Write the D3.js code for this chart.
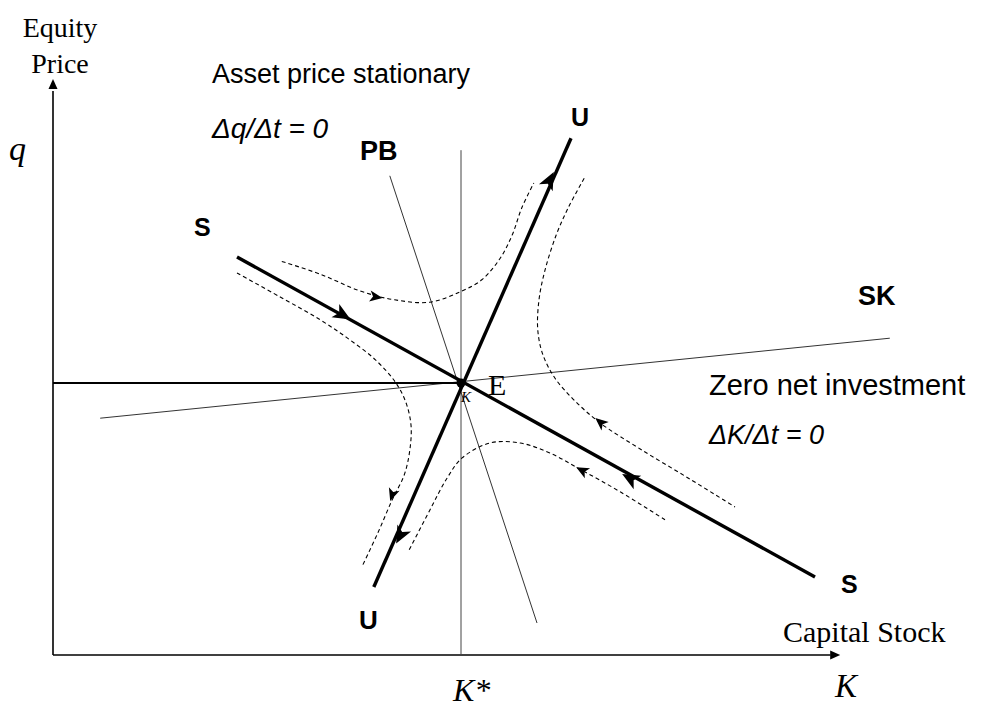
<!DOCTYPE html>
<html>
<head>
<meta charset="utf-8">
<script src="https://cdn.jsdelivr.net/npm/d3@7/dist/d3.min.js"></script>
<style>
  body { margin: 0; background: #fff; }
  .serif { font-family: "Liberation Serif", "Times New Roman", serif; }
  .sans { font-family: "Liberation Sans", Arial, sans-serif; }
</style>
</head>
<body>
<div class="container"></div>
<script>
var width = 985,
    height = 709;

// coordinates in chart units: K across, q up
var equilibrium = [51, 34];
var saddleStable = [[23, 49.75], [95.25, 9.75]];
var saddleUnstable = [[40.1, 8.5], [64.75, 64.6]];
var pbLine = [[42.1, 59.9], [60.5, 4]];
var skLine = [[5.9, 29.6], [104.6, 39.6]];
var kStarLine = [[51, 0], [51, 63.1]];
var priceLine = [[0, 34], [51, 34]];

// dashed trajectories
var pathUpperLeft = [[28.6, 49.2], [33.4, 47.6], [38.4, 45.5], [42.7, 44.4], [47.1, 44.1], [50.9, 45.4],
    [53.6, 46.9], [55.9, 49.6], [57.4, 52.5], [58.6, 55.9], [60.1, 59]];
var pathLowerLeft = [[23, 47.75], [28.4, 44.75], [33.4, 41.9], [37.1, 39.4], [40.3, 36.9], [42.8, 34.1],
    [44.1, 31.6], [44.75, 28.75], [44.6, 25.6], [43.9, 22.5], [42.4, 19.4], [40.6, 15.25], [38.6, 11]];
var pathUpperRight = [[66.4, 59.6], [64.4, 55.9], [62.9, 52.5], [61.5, 48.1], [60.75, 44.4], [60.6, 40.6],
    [61.25, 37.5], [62.75, 34.6], [65.25, 31.75], [68.4, 29], [73.4, 25.75], [79.6, 22], [85.25, 18.5]];
var pathLowerRight = [[76.5, 16.9], [70.9, 20.4], [66.1, 23.1], [62.1, 25.25], [58.4, 26.5], [54.6, 26.5],
    [51.1, 24.6], [49.25, 22.1], [47.1, 18.1], [44.4, 12.9]];

// arrows: position and the point they head toward
var arrows = [
    {at: [36.25, 42.5], to: [51, 34], big: true},
    {at: [72.1, 22.1], to: [51, 34], big: true},
    {at: [62.1, 59.4], to: [64.75, 64.6], big: true},
    {at: [43.4, 14.9], to: [40.1, 8.5], big: true},
    {at: [40.4, 44.75], to: [42.7, 44.4], big: false},
    {at: [42.4, 20], to: [41.5, 17.3], big: false},
    {at: [68.4, 29.1], to: [65.25, 31.75], big: false},
    {at: [66.1, 23.1], to: [62.1, 25.25], big: false}
];

var x = d3.scaleLinear().domain([0, 100]).range([53, 853]);
var y = d3.scaleLinear().domain([0, 72]).range([655, 79]);

var svg = d3.select('.container').append('svg')
    .attr('width', width)
    .attr('height', height);

var line = d3.line().x((d) => x(d[0])).y((d) => y(d[1]));
var curve = d3.line().x((d) => x(d[0])).y((d) => y(d[1])).curve(d3.curveCatmullRom);

var drawSeg = (pts, w, col) => {
    svg.append('path')
        .attr('d', line(pts))
        .attr('fill', 'none')
        .attr('stroke', col || '#000')
        .attr('stroke-width', w);
}

// axes
var ax = svg.append('g');
ax.append('line')
    .attr('x1', x(0)).attr('y1', y(0)).attr('x2', x(97.2)).attr('y2', y(0))
    .attr('stroke', '#000').attr('stroke-width', 1.6);
ax.append('line')
    .attr('x1', x(0)).attr('y1', y(0)).attr('x2', x(0)).attr('y2', y(70.5))
    .attr('stroke', '#000').attr('stroke-width', 1.6);
ax.append('path')
    .attr('d', 'M' + x(98.4) + ',' + y(0) + 'l-10,-4.5l0,9z');
ax.append('path')
    .attr('d', 'M' + x(0) + ',' + y(72) + 'l-4.5,10l9,0z');

// thin lines
drawSeg(kStarLine, 1, '#444');
drawSeg(pbLine, 1, '#333');
drawSeg(skLine, 1, '#333');
drawSeg(priceLine, 2.2, '#000');

// dashed paths
[pathUpperLeft, pathLowerLeft, pathUpperRight, pathLowerRight].forEach((p) => {
    svg.append('path')
        .attr('d', curve(p))
        .attr('fill', 'none')
        .attr('stroke', '#000')
        .attr('stroke-width', 1.1)
        .attr('stroke-dasharray', '4,3');
});

// saddle path arms
drawSeg(saddleStable, 3.4);
drawSeg(saddleUnstable, 3.4);

svg.append('circle')
    .attr('cx', x(equilibrium[0]))
    .attr('cy', y(equilibrium[1]))
    .attr('r', 4.5)
    .attr('fill', '#000');

// arrowheads
arrows.forEach((a) => {
    var px = x(a.at[0]), py = y(a.at[1]);
    var ang = Math.atan2(y(a.to[1]) - py, x(a.to[0]) - px) * 180 / Math.PI;
    var s = a.big ? 1.1 : 0.8;
    svg.append('path')
        .attr('d', 'M8,0L-8,-7L-4,0L-8,7Z')
        .attr('transform', 'translate(' + px + ',' + py + ') rotate(' + ang + ') scale(' + s + ')')
        .attr('fill', '#000');
});

// labels
var label = (txt, px, py, size, cls, opts) => {
    opts = opts || {};
    svg.append('text')
        .attr('class', cls)
        .attr('x', px)
        .attr('y', py)
        .attr('font-size', size)
        .attr('font-style', opts.italic ? 'italic' : null)
        .attr('font-weight', opts.bold ? 'bold' : null)
        .attr('text-anchor', opts.anchor || 'start')
        .attr('fill', '#000')
        .text(txt);
}

label('Equity', 60, 37, 28, 'serif', {anchor: 'middle'});
label('Price', 60, 73, 28, 'serif', {anchor: 'middle'});
label('q', 9, 160, 34, 'serif', {italic: true});
label('Asset price stationary', 212, 83, 27, 'sans');
label('\u0394q/\u0394t = 0', 212, 138, 28, 'sans', {italic: true});
label('PB', 360, 160, 27, 'sans', {bold: true});
label('U', 571, 126, 25, 'sans', {bold: true});
label('S', 194, 236, 25, 'sans', {bold: true});
label('SK', 858, 305, 27, 'sans', {bold: true});
label('E', 488, 395, 30, 'serif');
label('K', 461, 402, 15, 'serif', {italic: true});
label('Zero net investment', 709, 395, 29, 'sans');
label('\u0394K/\u0394t = 0', 709, 444, 27, 'sans', {italic: true});
label('S', 841, 593, 25, 'sans', {bold: true});
label('U', 359, 629, 26, 'sans', {bold: true});
label('Capital Stock', 783, 642, 30, 'serif');
label('K*', 453, 701, 32, 'serif', {italic: true});
label('K', 835, 697, 33, 'serif', {italic: true});
</script>
</body>
</html>
